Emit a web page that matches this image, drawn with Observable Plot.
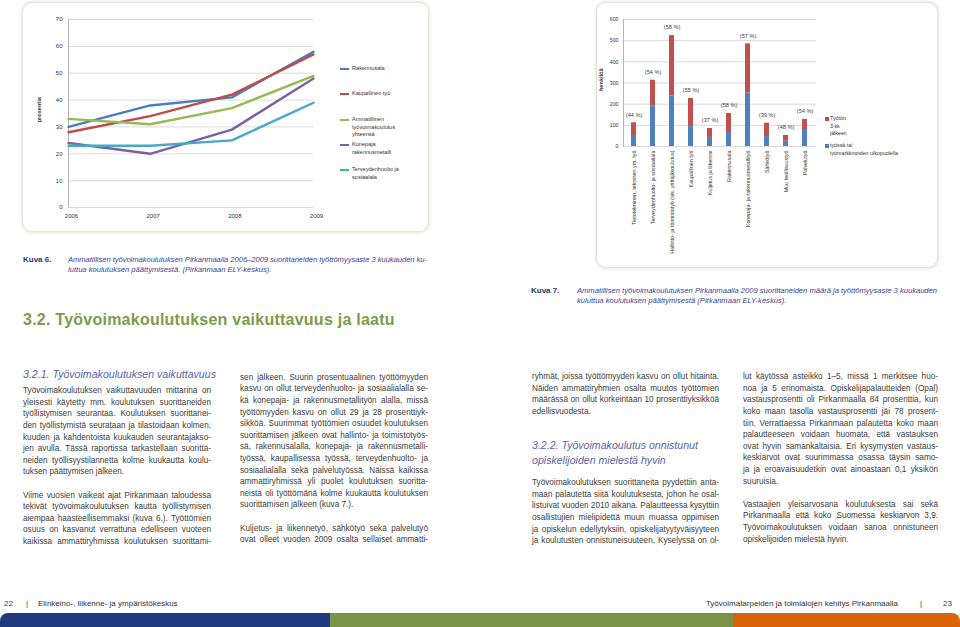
<!DOCTYPE html>
<html lang="fi">
<head>
<meta charset="utf-8">
<script src="https://cdn.jsdelivr.net/npm/d3@7"></script>
<script src="https://cdn.jsdelivr.net/npm/@observablehq/plot@0.6"></script>
<style>
html,body{margin:0;padding:0;background:#fff;}
#page{position:relative;width:960px;height:627px;overflow:hidden;background:#fff;font-family:"Liberation Sans",Arial,Helvetica,sans-serif;}
.panel{position:absolute;border:1px solid #e1e4d6;border-radius:10px;box-shadow:0 0 3px 1px rgba(222,226,208,0.7);background:#fff;}
.chart{position:absolute;}
.tl{position:absolute;white-space:nowrap;font-size:8.2px;line-height:11.6px;color:#3d3d3d;}
.lg{position:absolute;font-size:5.6px;line-height:7.4px;color:#333;white-space:nowrap;}
.cap{position:absolute;white-space:nowrap;font-size:7.6px;line-height:9.5px;font-style:italic;color:#3d4294;}
.kuva{position:absolute;white-space:nowrap;font-size:8px;line-height:9.5px;font-weight:bold;color:#2e3272;}
.h3{position:absolute;white-space:nowrap;font-size:10.6px;line-height:14px;font-style:italic;color:#5b63a6;}
.foot{position:absolute;white-space:nowrap;font-family:"Liberation Sans Narrow","Liberation Sans",Arial,sans-serif;font-size:8px;line-height:10px;color:#333;}
</style>
</head>
<body>
<div id="page">
  <div class="panel" style="left:22px;top:2px;width:405px;height:228px"></div>
  <div class="panel" style="left:596px;top:2px;width:340px;height:264px"></div>
  <div id="chart1" class="chart" style="left:0px;top:0px"></div>
  <div id="chart2" class="chart" style="left:590px;top:0px"></div>
</div>
<script>
// ---------- Kuva 6: työttömyysaste (%) 3 kk koulutuksen jälkeen ----------
const years = [2006, 2007, 2008, 2009];
const seriesNames = ["Rakennusala", "Kaupallinen työ", "Ammatillinen työvoimakoulutus yhteensä", "Konepaja rakennusmetalli", "Terveydenhuolto ja sosiaalala"];
const seriesColors = ["#4a7ebb", "#be4b48", "#98b954", "#7d60a0", "#46aac5"];
const rakennusala = [30, 38, 41, 58];
const kaupallinenTyo = [28, 34, 42, 57];
const ammatillinenYhteensa = [33, 31, 37, 49];
const konepajaRakennusmetalli = [24, 20, 29, 48];
const terveydenhuoltoSosiaaliala = [23, 23, 25, 39];
const yTicks1 = [0, 10, 20, 30, 40, 50, 60, 70];
const legend1Lines = [["Rakennusala"], ["Kaupallinen työ"], ["Ammatillinen", "työvoimakoulutus", "yhteensä"], ["Konepaja", "rakennusmetalli"], ["Terveydenhuolto ja", "sosiaalala"]];

// ---------- Kuva 7: suorittaneiden määrä (henkilöä) ----------
const categories = ["Tietotekninen, tekninen ym. työ", "Terveydenhuolto- ja sosiaaliala", "Hallinto- ja toimistotyö (sis. yrittäjäkoulutus)", "Kaupallinen työ", "Kuljetus ja liikenne", "Rakennusala", "Konepaja- ja rakennusmetallityö", "Sähkötyö", "Muu teollisuustyö", "Palvelutyö"];
const tyossaTaiUlkopuolella = [52, 192, 238, 99, 43, 66, 252, 47, 25, 76];
const tyotonKolmenKkJalkeen = [60, 121, 286, 128, 42, 90, 233, 63, 27, 52];
const osuusLabels = ["(44 %)", "(54 %)", "(58 %)", "(55 %)", "(37 %)", "(58 %)", "(57 %)", "(39 %)", "(48 %)", "(54 %)"];
const yTicks2 = [0, 100, 200, 300, 400, 500, 600];
const groupNames = ["Työtön 3 kk jälkeen", "työssä tai työmarkkinoiden ulkopuolella"];
const groupColors = ["#c0504d", "#4f81bd"];

const FONT = "Liberation Sans, Arial, sans-serif";
const page = document.getElementById("page");

// ---- chart 1 ----
const seriesValues = [rakennusala, kaupallinenTyo, ammatillinenYhteensa, konepajaRakennusmetalli, terveydenhuoltoSosiaaliala];
const lineRows = seriesNames.flatMap((s, k) => years.map((yr, i) => ({series: s, year: yr, value: seriesValues[k][i]})));
const chart1 = Plot.plot({
  width: 330, height: 232,
  marginLeft: 68, marginRight: 17, marginTop: 19, marginBottom: 25,
  style: {background: "transparent", fontFamily: FONT, fontSize: "6px", color: "#333", overflow: "visible"},
  x: {type: "linear", domain: [2006, 2009]},
  y: {domain: [0, 70]},
  color: {domain: seriesNames, range: seriesColors},
  marks: [
    Plot.gridY(yTicks1, {stroke: "#d2d2d2", strokeOpacity: 1, strokeWidth: 0.8}),
    Plot.ruleX([2006], {stroke: "#a3a3a3", strokeWidth: 0.8}),
    Plot.axisY(yTicks1, {tickSize: 0, tickPadding: 6, label: null, fontSize: 6}),
    Plot.axisX(years, {tickSize: 0, tickPadding: 6, dx: 3, tickFormat: d => String(d), label: null, fontSize: 6}),
    Plot.line(lineRows, {x: "year", y: "value", z: "series", stroke: "series", strokeWidth: 2.4})
  ]
});
document.getElementById("chart1").appendChild(chart1);

// ---- chart 2 ----
const barRows = categories.flatMap((c, i) => [
  {cat: c, group: groupNames[1], value: tyossaTaiUlkopuolella[i]},
  {cat: c, group: groupNames[0], value: tyotonKolmenKkJalkeen[i]}
]);
const totals = categories.map((c, i) => ({cat: c, total: tyossaTaiUlkopuolella[i] + tyotonKolmenKkJalkeen[i], label: osuusLabels[i]}));
const chart2 = Plot.plot({
  width: 240, height: 270,
  marginLeft: 33, marginRight: 14, marginTop: 19, marginBottom: 124,
  style: {background: "transparent", fontFamily: FONT, fontSize: "5.4px", color: "#333", overflow: "visible"},
  x: {domain: categories, paddingInner: 0.72, paddingOuter: 0.36},
  y: {domain: [0, 600]},
  color: {domain: groupNames, range: groupColors},
  marks: [
    Plot.gridY(yTicks2, {stroke: "#d2d2d2", strokeOpacity: 1, strokeWidth: 0.8}),
    Plot.frame({anchor: "left", stroke: "#a3a3a3", strokeWidth: 0.8}),
    Plot.barY(barRows, {x: "cat", y: "value", fill: "group"}),
    Plot.text(totals, {x: "cat", y: "total", text: "label", dy: -8, fontSize: 5.6, fill: "#404040"}),
    Plot.axisY(yTicks2, {tickSize: 0, tickPadding: 5, label: null, fontSize: 5.2}),
    Plot.axisX({tickRotate: -90, tickSize: 0, tickPadding: 4, label: null, fontSize: 5.4})
  ]
});
document.getElementById("chart2").appendChild(chart2);

// ---- helpers ----
function el(cls, text, x, yc, lh, extra) {
  const d = document.createElement("div");
  d.className = cls;
  d.textContent = text;
  d.style.left = x + "px";
  d.style.top = (yc - lh / 2) + "px";
  if (extra) Object.assign(d.style, extra);
  page.appendChild(d);
  return d;
}
function justify(d, w) {
  const nat = d.getBoundingClientRect().width;
  if (nat > w) d.style.letterSpacing = ((w - nat) / d.textContent.length) + "px";
  d.style.width = w + "px";
  d.style.textAlign = "justify";
  d.style.textAlignLast = "justify";
}
function fit(d, w) {
  const nat = d.getBoundingClientRect().width;
  d.style.letterSpacing = ((w - nat) / d.textContent.length) + "px";
}

// ---- chart texts (axis titles, legends) ----
el("lg", "prosentia", 40, 110, 7.4, {transform: "translate(-50%,0) rotate(-90deg)", fontWeight: "bold", fontSize: "5.6px"});
el("lg", "henkilöä", 602, 80, 7.4, {transform: "translate(-50%,0) rotate(-90deg)", fontWeight: "bold", fontSize: "5.6px"});
const legend1Y = [69, 94, 120, 145, 170];
legend1Lines.forEach((lines, k) => {
  const m = document.createElement("div");
  Object.assign(m.style, {position: "absolute", left: "340px", top: (legend1Y[k] - 1) + "px", width: "9px", height: "2.2px", background: seriesColors[k]});
  page.appendChild(m);
  lines.forEach((t, j) => el("lg", t, 352, legend1Y[k] + j * 7.4, 7.4));
});
const legend2Lines = [["Työtön", "3 kk", "jälkeen"], ["työssä tai", "työmarkkinoiden ulkopuolella"]];
const legend2Y = [119, 146];
legend2Lines.forEach((lines, k) => {
  const m = document.createElement("div");
  Object.assign(m.style, {position: "absolute", left: "825px", top: (legend2Y[k] - 2) + "px", width: "4px", height: "4px", background: groupColors[k]});
  page.appendChild(m);
  lines.forEach((t, j) => el("lg", t, 830, legend2Y[k] + j * 7.4, 7.4, {fontSize: "5.3px"}));
});

// ---- captions ----
el("kuva", "Kuva 6.", 23, 260, 9.5);
justify(el("cap", "Ammatillisen työvoimakoulutuksen Pirkanmaalla 2006–2009 suorittaneiden työttömyysaste 3 kuukauden ku-", 68, 260, 9.5), 359);
el("cap", "luttua koulutuksen päättymisestä. (Pirkanmaan ELY-keskus).", 68, 269.5, 9.5);
el("kuva", "Kuva 7.", 531, 291, 9.5);
justify(el("cap", "Ammatillisen työvoimakoulutuksen Pirkanmaalla 2009 suorittaneiden määrä ja työttömyysaste 3 kuukauden", 577, 291, 9.5), 360);
el("cap", "kuluttua koulutuksen päättymisestä (Pirkanmaan ELY-keskus).", 577, 300.5, 9.5);

// ---- section heading ----
fit(el("tl", "3.2.  Työvoimakoulutuksen vaikuttavuus ja laatu", 23, 320, 20, {fontSize: "16px", lineHeight: "20px", fontWeight: "bold", color: "#7d9b4b"}), 372);

// ---- body text ----
const L = 11.6;
function column(x, w, y0, paras) {
  let y = y0;
  paras.forEach(p => {
    p.forEach((t, i) => {
      const d = el("tl", t, x, y, L);
      if (i < p.length - 1 || t.endsWith("-")) justify(d, w);
      y += L;
    });
    y += L;
  });
}
el("h3", "3.2.1. Työvoimakoulutuksen vaikuttavuus", 23, 374, 14);
column(23, 188, 391, [
  ["Työvoimakoulutuksen vaikuttavuuden mittarina on", "yleisesti käytetty mm. koulutuksen suorittaneiden", "työllistymisen seurantaa. Koulutuksen suorittanei-", "den työllistymistä seurataan ja tilastoidaan kolmen,", "kuuden ja kahdentoista kuukauden seurantajakso-", "jen avulla. Tässä raportissa tarkastellaan suoritta-", "neiden työllisyystilannetta kolme kuukautta koulu-", "tuksen päättymisen jälkeen."],
  ["Viime vuosien vaikeat ajat Pirkanmaan taloudessa", "tekivät työvoimakoulutuksen kautta työllistymisen", "aiempaa haasteellisemmaksi (kuva 6.). Työttömien", "osuus on kasvanut verrattuna edelliseen vuoteen", "kaikissa ammattiryhmissä koulutuksen suorittami-"]
]);
column(240, 188, 377.5, [
  ["sen jälkeen. Suurin prosentuaalinen työttömyyden", "kasvu on ollut terveydenhuolto- ja sosiaalialalla se-", "kä konepaja- ja rakennusmetallityön alalla, missä", "työttömyyden kasvu on ollut 29 ja 28 prosenttiyk-", "sikköä. Suurimmat työttömien osuudet koulutuksen", "suorittamisen jälkeen ovat hallinto- ja toimistotyös-", "sä, rakennusalalla, konepaja- ja rakennusmetalli-", "työssä, kaupallisessa työssä, terveydenhuolto- ja", "sosiaalialalla sekä palvelutyössä. Näissä kaikissa", "ammattiryhmissä yli puolet koulutuksen suoritta-", "neista oli työttömänä kolme kuukautta koulutuksen", "suorittamisen jälkeen (kuva 7.)."],
  ["Kuljetus- ja liikennetyö, sähkötyö sekä palvelutyö", "ovat olleet vuoden 2009 osalta sellaiset ammatti-"]
]);
column(532, 187, 377, [
  ["ryhmät, joissa työttömyyden kasvu on ollut hitainta.", "Näiden ammattiryhmien osalta muutos työttömien", "määrässä on ollut korkeintaan 10 prosenttiyksikköä", "edellisvuodesta."]
]);
el("h3", "3.2.2. Työvoimakoulutus onnistunut", 532, 445, 14);
el("h3", "opiskelijoiden mielestä hyvin", 532, 459.5, 14);
column(532, 187, 483, [
  ["Työvoimakoulutuksen suorittaneita pyydettiin anta-", "maan palautetta siitä koulutuksesta, johon he osal-", "listuivat vuoden 2010 aikana. Palautteessa kysyttiin", "osallistujien mielipidettä muun muassa oppimisen", "ja opiskelun edellytyksiin, opiskelijatyytyväisyyteen", "ja koulutusten onnistuneisuuteen. Kyselyssä on ol-"]
]);
column(743, 195, 377, [
  ["lut käytössä asteikko 1–5, missä 1 merkitsee huo-", "noa ja 5 erinomaista. Opiskelijapalautteiden (Opal)", "vastausprosentti oli Pirkanmaalla 84 prosenttia, kun", "koko maan tasolla vastausprosentti jäi 78 prosent-", "tiin. Verrattaessa Pirkanmaan palautetta koko maan", "palautteeseen voidaan huomata, että vastauksen", "ovat hyvin samankaltaisia. Eri kysymysten vastaus-", "keskiarvot ovat suurimmassa osassa täysin samo-", "ja ja eroavaisuudetkin ovat ainoastaan 0,1 yksikön", "suuruisia."],
  ["Vastaajien yleisarvosana koulutuksesta sai sekä", "Pirkanmaalla että koko Suomessa keskiarvon 3,9.", "Työvoimakoulutuksen voidaan sanoa onnistuneen", "opiskelijoiden mielestä hyvin."]
]);

// ---- footer ----
el("foot", "22", 4, 604, 10, {color: "#1f3b7f"});
el("foot", "|", 26, 604, 10);
el("foot", "Elinkeino-, liikenne- ja ympäristökeskus", 38, 604, 10);
const rt = el("foot", "Työvoimatarpeiden ja toimialojen kehitys Pirkanmaalla", 0, 604, 10);
rt.style.left = (898 - rt.getBoundingClientRect().width) + "px";
el("foot", "|", 920, 604, 10);
el("foot", "23", 943, 604, 10, {color: "#1f3b7f"});
[[0, 330, "#1f3b7f", "8px 0 0 0"], [330, 733, "#7a9445", "0"], [733, 960, "#d9640a", "0 8px 0 0"]].forEach(([a, b, c, r]) => {
  const s = document.createElement("div");
  Object.assign(s.style, {position: "absolute", left: a + "px", top: "613px", width: (b - a) + "px", height: "14px", background: c, borderRadius: r});
  page.appendChild(s);
});
</script>
</body>
</html>
